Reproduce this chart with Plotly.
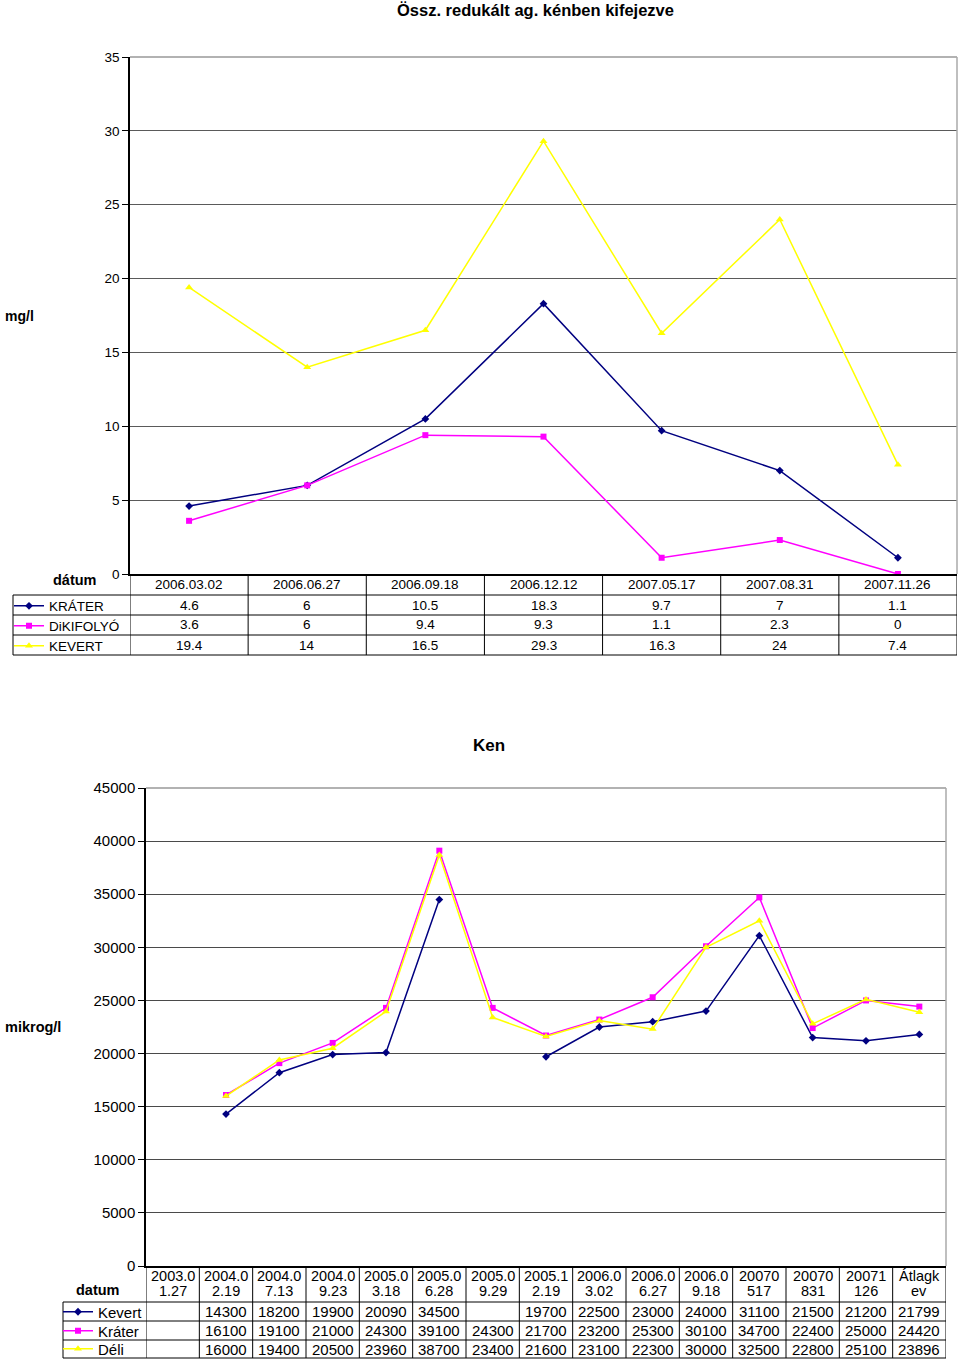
import plotly.graph_objects as go

# ---------------- data: chart 1 ----------------
title1 = "Össz. redukált ag. kénben kifejezve"
dates1 = ["2006.03.02", "2006.06.27", "2006.09.18", "2006.12.12",
          "2007.05.17", "2007.08.31", "2007.11.26"]
krater1 = [4.6, 6, 10.5, 18.3, 9.7, 7, 1.1]
dikifolyo1 = [3.6, 6, 9.4, 9.3, 1.1, 2.3, 0]
kevert1 = [19.4, 14, 16.5, 29.3, 16.3, 24, 7.4]
names1 = ["KRÁTER", "DiKIFOLYÓ", "KEVERT"]

# ---------------- data: chart 2 ----------------
title2 = "Ken"
dates2 = ["2003.01.27", "2004.02.19", "2004.07.13", "2004.09.23", "2005.03.18",
          "2005.06.28", "2005.09.29", "2005.12.19", "2006.03.02", "2006.06.27",
          "2006.09.18", "20070517", "20070831", "20071126", "Átlagkev"]
header2 = ["2003.0<br>1.27", "2004.0<br>2.19", "2004.0<br>7.13", "2004.0<br>9.23",
           "2005.0<br>3.18", "2005.0<br>6.28", "2005.0<br>9.29", "2005.1<br>2.19",
           "2006.0<br>3.02", "2006.0<br>6.27", "2006.0<br>9.18", "20070<br>517",
           "20070<br>831", "20071<br>126", "Átlagk<br>ev"]
kevert2 = [None, 14300, 18200, 19900, 20090, 34500, None, 19700, 22500, 23000,
           24000, 31100, 21500, 21200, 21799]
krater2 = [None, 16100, 19100, 21000, 24300, 39100, 24300, 21700, 23200, 25300,
           30100, 34700, 22400, 25000, 24420]
deli2 = [None, 16000, 19400, 20500, 23960, 38700, 23400, 21600, 23100, 22300,
         30000, 32500, 22800, 25100, 23896]
names2 = ["Kevert", "Kráter", "Déli"]

# ---------------- styling ----------------
W, H = 960, 1360
FONT = "Liberation Sans, Arial, sans-serif"
colors = ["#000080", "#FF00FF", "#FFFF00"]
symbols = ["diamond", "square", "triangle-up"]
msizes = [6, 6, 7]


def px(x):
    return x / W


def py(y):
    return 1 - y / H


fig = go.Figure()

# chart 1 traces
series1 = [krater1, dikifolyo1, kevert1]
for i, (nm, vals) in enumerate(zip(names1, series1)):
    fig.add_trace(go.Scatter(
        x=dates1, y=vals, name=nm, mode="lines+markers",
        line=dict(color=colors[i], width=1.5),
        marker=dict(symbol=symbols[i], size=msizes[i], color=colors[i]),
        xaxis="x", yaxis="y",
        legend="legend" if i == 0 else f"legend{i + 1}",
    ))

# chart 2 traces
series2 = [kevert2, krater2, deli2]
for i, (nm, vals) in enumerate(zip(names2, series2)):
    fig.add_trace(go.Scatter(
        x=dates2, y=vals, name=nm, mode="lines+markers", connectgaps=False,
        line=dict(color=colors[i], width=1.5),
        marker=dict(symbol=symbols[i], size=msizes[i], color=colors[i]),
        xaxis="x2", yaxis="y2",
        legend=f"legend{i + 4}",
    ))

shapes = []
annotations = []
BL = dict(color="black", width=1)


def note(x, y, text, size, xref="paper", xanchor="center"):
    return dict(x=x, y=y, xref=xref, yref="paper", text=text, showarrow=False,
                xanchor=xanchor, yanchor="middle", font=dict(size=size))


# ---------- table 1 ----------
t1_top, t1_hdr, t1_rows = 574, 595, [595, 615, 635, 655]
t1_left, t1_right = 13, 957
n1 = len(dates1)
for k in range(n1 + 1):
    shapes.append(dict(type="line", xref="x", yref="paper", x0=k - 0.5, x1=k - 0.5,
                       y0=py(t1_top), y1=py(t1_rows[-1]), line=BL))
shapes.append(dict(type="line", xref="paper", yref="paper", x0=px(t1_left), x1=px(t1_left),
                   y0=py(t1_hdr), y1=py(t1_rows[-1]), line=BL))
for yy in t1_rows:
    shapes.append(dict(type="line", xref="paper", yref="paper", x0=px(t1_left), x1=px(t1_right),
                       y0=py(yy), y1=py(yy), line=BL))
for k, d in enumerate(dates1):
    annotations.append(note(k, py((t1_top + t1_hdr) / 2), d, 13.5, xref="x"))
for r, vals in enumerate(series1):
    yc = py((t1_rows[r] + t1_rows[r + 1]) / 2)
    for k, v in enumerate(vals):
        annotations.append(note(k, yc, "" if v is None else f"{v:g}", 13.5, xref="x"))

# ---------- table 2 ----------
t2_top, t2_hdr, t2_rows = 1266, 1302, [1302, 1321, 1340, 1358]
t2_left, t2_right = 63, 946
n2 = len(dates2)
for k in range(n2 + 1):
    shapes.append(dict(type="line", xref="x2", yref="paper", x0=k - 0.5, x1=k - 0.5,
                       y0=py(t2_top), y1=py(t2_rows[-1]), line=BL))
shapes.append(dict(type="line", xref="paper", yref="paper", x0=px(t2_left), x1=px(t2_left),
                   y0=py(t2_hdr), y1=py(t2_rows[-1]), line=BL))
for yy in t2_rows:
    shapes.append(dict(type="line", xref="paper", yref="paper", x0=px(t2_left), x1=px(t2_right),
                       y0=py(yy), y1=py(yy), line=BL))
for k, d in enumerate(header2):
    for j, part in enumerate(d.split("<br>")):
        annotations.append(note(k, py(1276 + 15 * j), part, 14.5, xref="x2"))
for r, vals in enumerate(series2):
    yc = py((t2_rows[r] + t2_rows[r + 1]) / 2)
    for k, v in enumerate(vals):
        annotations.append(note(k, yc, "" if v is None else f"{v:g}", 15, xref="x2"))

# plot-area gray border (top + right)
for xa, ya in [("x", "y"), ("x2", "y2")]:
    shapes.append(dict(type="line", xref=f"{xa} domain", yref=f"{ya} domain",
                       x0=0, x1=1, y0=1, y1=1, line=dict(color="#999999", width=1.5)))
    shapes.append(dict(type="line", xref=f"{xa} domain", yref=f"{ya} domain",
                       x0=1, x1=1, y0=0, y1=1, line=dict(color="#aaaaaa", width=1.5)))

# titles and labels
annotations += [
    note(px(535), py(10), f"<b>{title1}</b>", 16.5),
    note(px(489), py(745), f"<b>{title2}</b>", 17),
    note(px(3), py(316), "<b>mg/l</b>", 14, xanchor="left"),
    note(px(3), py(1027), "<b>mikrog/l</b>", 14.5, xanchor="left"),
    note(px(75), py(580), "<b>dátum</b>", 14.5),
    note(px(98), py(1290), "<b>datum</b>", 14.5),
]

axis_common = dict(showline=True, linecolor="black", linewidth=1.5, zeroline=False)

layout = dict(
    width=W, height=H, margin=dict(l=0, r=0, t=0, b=0, pad=0, autoexpand=False),
    paper_bgcolor="white", plot_bgcolor="white",
    font=dict(family=FONT, color="black"),
    xaxis=dict(domain=[px(130), px(957)], anchor="y", type="category",
               range=[-0.5, n1 - 0.5], showticklabels=False, ticks="",
               showgrid=False, **axis_common),
    yaxis=dict(domain=[py(574), py(57)], anchor="x", range=[0, 35], dtick=5,
               ticks="outside", ticklen=6, tickcolor="black",
               gridcolor="#5a5a5a", gridwidth=1.2, tickfont=dict(size=13.5),
               **axis_common),
    xaxis2=dict(domain=[px(146), px(946)], anchor="y2", type="category",
                range=[-0.5, n2 - 0.5], showticklabels=False, ticks="",
                showgrid=False, **axis_common),
    yaxis2=dict(domain=[py(1266), py(788)], anchor="x2", range=[0, 45000], dtick=5000,
                tickformat="d", ticks="outside", ticklen=6, tickcolor="black",
                gridcolor="#4a4a4a", gridwidth=1.2, tickfont=dict(size=15),
                **axis_common),
    shapes=shapes, annotations=annotations, showlegend=True,
)

# row legends (glyph + name in each table row)
leg_rows1 = [606, 626, 646]
leg_rows2 = [1312, 1331, 1349]
for i in range(3):
    key = "legend" if i == 0 else f"legend{i + 1}"
    layout[key] = dict(x=px(9), y=py(leg_rows1[i]), xanchor="left", yanchor="middle",
                       bgcolor="rgba(0,0,0,0)", borderwidth=0, font=dict(size=13.5),
                       itemwidth=30)
    layout[f"legend{i + 4}"] = dict(x=px(58), y=py(leg_rows2[i]), xanchor="left",
                                    yanchor="middle", bgcolor="rgba(0,0,0,0)", borderwidth=0,
                                    font=dict(size=15), itemwidth=30)

fig.update_layout(**layout)

# pin the plot to the top-left corner of the page (no body margin)
post = ("document.documentElement.style.margin='0';"
        "document.body.style.margin='0';document.body.style.padding='0';"
        "document.body.style.overflow='hidden';"
        "var gd=document.getElementById('{plot_id}');"
        "gd.style.position='absolute';gd.style.left='0px';gd.style.top='0px';")
fig.write_html("out.html", post_script=post, config={"displayModeBar": False})
